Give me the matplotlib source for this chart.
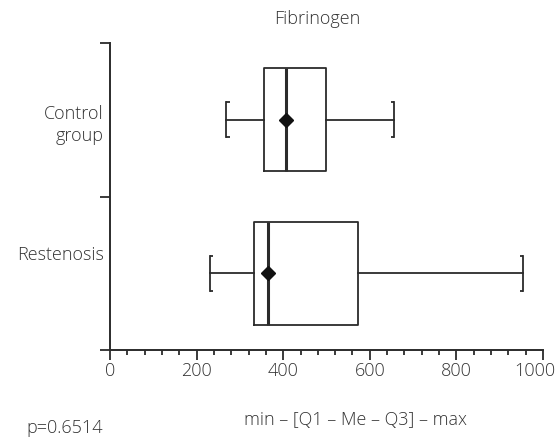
import matplotlib
matplotlib.use("Agg")
import matplotlib.pyplot as plt
from matplotlib.transforms import ScaledTranslation

plt.rcParams['font.family'] = ['Open Sans', 'DejaVu Sans']
plt.rcParams['font.weight'] = 'light'

# summary statistics
groups = ["Restenosis", "Control\ngroup"]
mins = [231, 268]
q1s = [333, 356]
medians = [366, 406]
q3s = [573, 499]
maxs = [954, 657]
means = [366, 406]
p_value = "p=0.6514"

ink = "#2b2b2b"
txt = "#333333"
fs = 13

fig = plt.figure(figsize=(5.6, 4.37), dpi=100)
ax = fig.add_axes([110 / 560, 1 - 350 / 437, 433 / 560, 307 / 437])

positions = [0.5, 1.5]
stats = []
for g, lo, a, m, b, hi in zip(groups, mins, q1s, medians, q3s, maxs):
    stats.append({"label": g, "whislo": lo, "q1": a, "med": m, "q3": b, "whishi": hi, "fliers": []})

ax.bxp(stats, positions=positions, orientation="horizontal", widths=0.67,
       showfliers=False, showcaps=True, capwidths=0.225,
       boxprops=dict(color=ink, linewidth=1.3),
       whiskerprops=dict(color=ink, linewidth=1.3),
       capprops=dict(color=ink, linewidth=1.3),
       medianprops=dict(color=ink, linewidth=2.2, solid_capstyle="butt"))

# small serifs on the caps so they look like brackets
serif = 8
for y, lo, hi in zip(positions, mins, maxs):
    for yy in (y - 0.1125, y + 0.1125):
        ax.plot([lo, lo + serif], [yy, yy], color=ink, lw=1.3, solid_capstyle="butt")
        ax.plot([hi - serif, hi], [yy, yy], color=ink, lw=1.3, solid_capstyle="butt")

ax.plot(means, positions, linestyle="none", marker="D", markersize=7,
        color="#111111", zorder=5)

ax.set_xlim(0, 1000)
ax.set_ylim(0, 2)

ax.spines["top"].set_visible(False)
ax.spines["right"].set_visible(False)
for s in ("left", "bottom"):
    ax.spines[s].set_linewidth(1.4)
    ax.spines[s].set_color(ink)

ax.set_xticks(range(0, 1001, 200))
ax.set_xticks(range(0, 1001, 40), minor=True)
ax.tick_params(axis="x", which="major", length=7, width=1.3, color=ink,
               labelsize=fs, labelcolor=txt, pad=2)
ax.tick_params(axis="x", which="minor", length=3.5, width=1.3, color=ink)
ax.set_yticks([0, 1, 2])
ax.set_yticklabels([])
ax.tick_params(axis="y", which="major", length=7, width=1.3, color=ink)

# the last tick label sits a little left of its tick in the reference
last = ax.get_xticklabels()[-1]
last.set_transform(last.get_transform() + ScaledTranslation(-8 / 100, 0, fig.dpi_scale_trans))

label_y = [0.62, 1.466]
for g, y in zip(groups, label_y):
    ax.text(-0.015, y, g, transform=ax.get_yaxis_transform(), ha="right", va="center",
            multialignment="right", fontsize=fs, color=txt, linespacing=1.35)

ax.set_title("Fibrinogen", fontsize=fs, color=txt, pad=14, x=0.478, fontweight="light")
fig.text(356 / 560, 1 - 420 / 437, "min – [Q1 – Me – Q3] – max", ha="center", va="center",
         fontsize=fs, color=txt)
fig.text(26 / 560, 1 - 428 / 437, p_value, ha="left", va="center", fontsize=fs, color=txt)

fig.savefig("out.png", dpi=100)
